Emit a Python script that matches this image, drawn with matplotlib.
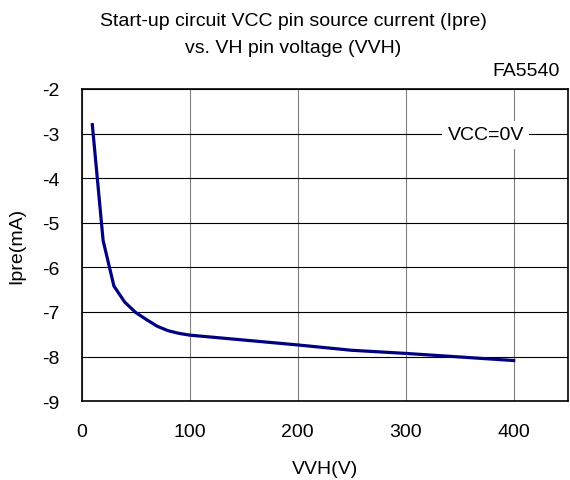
import matplotlib.pyplot as plt

plt.rcParams['font.family'] = ['Liberation Sans', 'DejaVu Sans']
plt.rcParams['axes.unicode_minus'] = False

vh = [10, 20, 30, 40, 50, 60, 70, 80, 90, 100, 150, 200, 250, 300, 400]
ipre = [-2.8, -5.4, -6.42, -6.78, -7.01, -7.17, -7.32, -7.42, -7.48, -7.52,
        -7.63, -7.74, -7.86, -7.93, -8.09]

fig = plt.figure(figsize=(5.70, 4.81), dpi=100)
ax = fig.add_axes([0.143, 0.164, 0.853, 0.649])

ax.plot(vh, ipre, color='#000080', lw=2.3, zorder=3)

ax.set_xlim(0, 450)
ax.set_ylim(-9, -2)
ax.set_xticks([0, 100, 200, 300, 400])
ax.set_yticks(range(-9, -1))
ax.yaxis.grid(True, color='black', lw=0.8)
ax.xaxis.grid(True, color='#808080', lw=0.8)
ax.set_axisbelow(True)
for s in ax.spines.values():
    s.set_linewidth(1.2)
ax.tick_params(length=0, labelsize=14)
ax.tick_params(axis='x', pad=16)
ax.tick_params(axis='y', pad=16)

# axis titles placed in figure coordinates
fig.text(0.570, 0.023, 'VVH(V)', ha='center', va='center', fontsize=14)
fig.text(0.030, 0.489, 'Ipre(mA)', ha='center', va='center', fontsize=14,
         rotation=90)

fig.text(0.514, 0.955, 'Start-up circuit VCC pin source current (Ipre)',
         ha='center', va='center', fontsize=14)
fig.text(0.514, 0.900, 'vs. VH pin voltage (VVH)',
         ha='center', va='center', fontsize=14)
fig.text(0.982, 0.851, 'FA5540', ha='right', va='center', fontsize=14)

ax.text(374, -3.03, 'VCC=0V', ha='center', va='center', fontsize=14,
        bbox=dict(facecolor='white', edgecolor='none', pad=4), zorder=4)

fig.savefig('out.png')
